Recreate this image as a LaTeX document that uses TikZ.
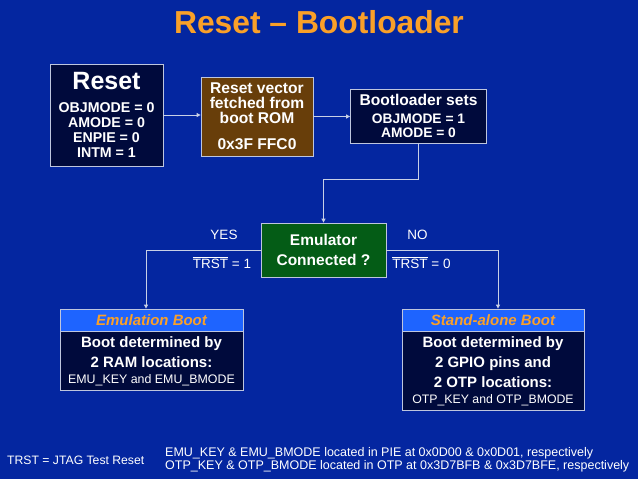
\documentclass[tikz,border=0pt]{standalone}
\usepackage{fontspec}
\setmainfont{Liberation Sans}
\usepackage{xcolor}
\usepackage{tikz}
\usetikzlibrary{arrows.meta,positioning,calc}
\definecolor{bgblue}{RGB}{4,38,160}
\definecolor{navy}{RGB}{0,10,60}
\definecolor{rombrown}{RGB}{104,62,10}
\definecolor{emugreen}{RGB}{4,92,22}
\definecolor{hdrblue}{RGB}{30,100,255}
\definecolor{ttlorange}{RGB}{250,160,40}
\definecolor{edge}{RGB}{190,198,222}
\definecolor{wire}{RGB}{200,208,230}
\newcommand{\ovl}[1]{\ensuremath{\overline{\hbox{\vrule height 10.3pt width 0pt\relax #1}}}}
\tikzset{
  blk/.style ={rectangle,draw=edge,line width=0.8pt,text=white,align=center,inner sep=0pt,
               font=\bfseries\fontsize{13.8}{14}\selectfont},
  body/.style={blk,fill=navy,font=\bfseries\fontsize{15}{20}\selectfont},
  hdr/.style ={blk,fill=hdrblue,text=ttlorange,minimum height=22,font=\bfseries\itshape\fontsize{15}{17}\selectfont},
  lbl/.style ={text=white,inner sep=0pt,font=\fontsize{13.5}{15}\selectfont},
  ar/.style  ={-{Triangle[length=4pt,width=4pt]},draw=wire,line width=1pt},
}

\begin{document}
\begin{tikzpicture}[x=1pt,y=-1pt]
  \fill[bgblue] (0,0) rectangle (638,479);
  \useasboundingbox (0,0) rectangle (638,479);
  \node[anchor=base,text=ttlorange,font=\bfseries\fontsize{31.8}{33}\selectfont] (ttl) at (319,33) {Reset – Bootloader};
  % top row
  \node[blk,fill=navy,minimum width=113,minimum height=102,font=\bfseries\fontsize{14.2}{15}\selectfont] (rst) at (106.5,115)
    {{\fontsize{25}{25}\selectfont Reset}\\[7.7pt]OBJMODE = 0\\AMODE = 0\\ENPIE = 0\\INTM = 1};
  \node[blk,fill=rombrown,minimum width=112,minimum height=79,font=\bfseries\fontsize{15.6}{15}\selectfont] (vec) at (257,116.5)
    {Reset vector\\fetched from\\boot ROM\\[11pt]0x3F FFC0};
  \node[blk,fill=navy,minimum width=136,minimum height=54] (bl) at (418.5,116)
    {{\fontsize{15.6}{15}\selectfont Bootloader sets}\\[4.4pt]OBJMODE = 1\\AMODE = 0};
  % decision
  \node[blk,fill=emugreen,minimum width=125,minimum height=54,font=\bfseries\fontsize{15.5}{20}\selectfont] (emu) at (323.5,250)
    {Emulator\\Connected ?};
  \node[lbl] (yes)   at (224,235)   {YES};
  \node[lbl] (trst1) at (222,262.5) {\ovl{TRST} = 1};
  \node[lbl] (no)    at (417.5,235) {NO};
  \node[lbl] (trst0) at (421.5,262.5) {\ovl{TRST} = 0};
  % boot modes
  \node[hdr,minimum width=183] (embHd) at (151.5,320) {Emulation Boot};
  \node[body,minimum width=183,minimum height=59,below=0pt of embHd] (embBody)
    {Boot determined by\\2 RAM locations:\\[-3.4pt]{\mdseries\fontsize{12.4}{12}\selectfont EMU\_KEY and EMU\_BMODE}};
  \node[hdr,minimum width=182] (saHd) at (493,320) {Stand-alone Boot};
  \node[body,minimum width=182,minimum height=79,below=0pt of saHd] (saBody)
    {Boot determined by\\2 GPIO pins and\\2 OTP locations:\\[-3.3pt]{\mdseries\fontsize{12.3}{12}\selectfont OTP\_KEY and OTP\_BMODE}};
  % connectors
  \draw[ar] (rst.east) -- (rst.east -| vec.west);
  \draw[ar] (vec.east) -- (vec.east -| bl.west);
  \draw[ar] (bl.south) -- (bl.south |- 0,179) -| (emu.north);
  \draw[ar] (emu.west) -| ([xshift=-5.5pt]embHd.north);
  \draw[ar] (emu.east) -| ([xshift=5pt]saHd.north);
  % footer
  \node[anchor=west,text=white,inner sep=0pt,font=\fontsize{12.2}{12}\selectfont] (key) at (7,460) {TRST = JTAG Test Reset};
  \node[anchor=west,align=left,text=white,inner sep=0pt,font=\fontsize{12.5}{11.5}\selectfont] (loc) at (165,460)
    {EMU\_KEY \& EMU\_BMODE located in PIE at 0x0D00 \& 0x0D01, respectively\\
     OTP\_KEY \& OTP\_BMODE located in OTP at 0x3D7BFB \& 0x3D7BFE, respectively};
\end{tikzpicture}
\end{document}
